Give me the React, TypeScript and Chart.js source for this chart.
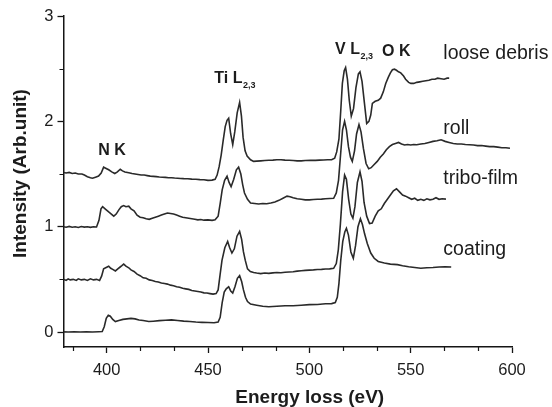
import React, { useEffect, useRef } from "react";
import { Chart, registerables } from "chart.js";

Chart.register(...registerables);

// ---- Data (energy loss in eV, intensity in arb. units) ----
const coating: [number, number][] = [
  [378.7, 0.002], [381, 0.0], [384, 0.003], [387, 0.0], [390, 0.002], [393, 0.0], [396, 0.003], [397.8, 0.005],
  [398.8, 0.05], [399.8, 0.13], [400.8, 0.16], [401.8, 0.15], [403, 0.12], [404.3, 0.1], [406, 0.11], [408, 0.12],
  [410, 0.125], [412, 0.13], [414, 0.125], [416, 0.115], [418, 0.11], [420.8, 0.1], [423, 0.103], [426, 0.108],
  [429, 0.112], [432, 0.115], [435, 0.11], [438, 0.104], [441, 0.1], [444, 0.095], [447, 0.092], [450, 0.09],
  [453, 0.088], [455, 0.095], [456, 0.14], [457, 0.28], [458, 0.38], [459, 0.41], [460.2, 0.43], [461.2, 0.39],
  [462.2, 0.37], [463.3, 0.43], [464.5, 0.51], [465.6, 0.535], [466.6, 0.48], [467.5, 0.4], [468.5, 0.33],
  [469.5, 0.29], [471, 0.265], [474, 0.255], [477, 0.245], [480, 0.24], [484, 0.245], [488, 0.25], [492, 0.25],
  [496, 0.255], [500, 0.26], [504, 0.262], [508, 0.268], [511, 0.27], [512.8, 0.28], [513.8, 0.33], [514.6, 0.46],
  [515.5, 0.68], [516.5, 0.86], [517.5, 0.95], [518.3, 0.985], [519.3, 0.92], [520.5, 0.76], [521.7, 0.7],
  [522.8, 0.82], [524, 1.0], [525.2, 1.075], [526.2, 1.02], [527.3, 0.93], [528.6, 0.84], [530.3, 0.75],
  [532, 0.7], [534, 0.67], [537, 0.655], [540, 0.645], [543.5, 0.64], [546, 0.63], [549, 0.62], [552, 0.612],
  [555, 0.605], [558, 0.61], [561, 0.612], [564, 0.618], [567, 0.62], [570, 0.618],
];

const triboFilm: [number, number][] = [
  [378.7, 0.5], [380, 0.49], [381, 0.505], [382, 0.495], [383.5, 0.5], [385, 0.49], [386, 0.505], [387.5, 0.495],
  [389, 0.5], [390.5, 0.49], [392, 0.505], [393.5, 0.495], [395, 0.5], [396.5, 0.49], [397.5, 0.53], [398.5, 0.6],
  [400, 0.615], [401, 0.625], [402, 0.605], [403, 0.595], [404.3, 0.58], [405.5, 0.6], [406.5, 0.615], [407.5, 0.63],
  [408.4, 0.645], [409.5, 0.625], [410.9, 0.61], [412, 0.59], [413.5, 0.575], [415, 0.55], [416.5, 0.535],
  [418, 0.515], [419.5, 0.51], [421, 0.495], [422.5, 0.49], [424, 0.48], [425.5, 0.475], [427, 0.465], [428.5, 0.46],
  [430, 0.455], [431.5, 0.445], [433, 0.44], [434.5, 0.43], [436, 0.425], [437.5, 0.415], [439, 0.41], [440.5, 0.405],
  [442, 0.395], [443.5, 0.39], [445, 0.385], [446.5, 0.38], [448, 0.372], [449.5, 0.37], [451, 0.365], [452.5, 0.36],
  [454, 0.365], [455, 0.4], [456, 0.55], [456.9, 0.68], [458.3, 0.8], [459.7, 0.86], [460.7, 0.8], [461.8, 0.75],
  [463, 0.79], [464.3, 0.91], [465.6, 0.955], [466.6, 0.88], [467.5, 0.76], [468.4, 0.68], [469.5, 0.6],
  [470.9, 0.575], [472.5, 0.565], [474, 0.56], [476, 0.555], [478, 0.56], [480, 0.557], [482, 0.562], [484, 0.565],
  [486, 0.563], [488, 0.568], [490, 0.57], [492, 0.572], [494, 0.578], [496, 0.582], [498, 0.585], [500, 0.588],
  [502, 0.59], [504, 0.593], [506, 0.595], [508, 0.598], [510, 0.6], [512, 0.605], [513.3, 0.65], [514.3, 0.78],
  [515.3, 1.02], [516.4, 1.33], [517.4, 1.49], [518.3, 1.45], [519.4, 1.26], [520.5, 1.12], [521.5, 1.08],
  [522.5, 1.19], [523.7, 1.42], [525, 1.52], [526, 1.43], [527, 1.23], [528.3, 1.1], [529.7, 1.03], [531, 1.035],
  [532.5, 1.1], [534, 1.15], [535.5, 1.17], [537, 1.22], [538.5, 1.26], [540, 1.3], [541.5, 1.34], [543, 1.36],
  [544.5, 1.33], [546, 1.3], [547.5, 1.29], [549, 1.275], [550.5, 1.26], [552, 1.27], [553.5, 1.25], [555, 1.26],
  [556.5, 1.25], [558, 1.265], [559.5, 1.255], [561, 1.26], [562.5, 1.275], [564, 1.26], [565.5, 1.265], [567.4, 1.262],
];

const roll: [number, number][] = [
  [378.7, 1.0], [380, 0.995], [381.5, 1.003], [383, 0.995], [384.5, 1.0], [386, 0.993], [387.5, 1.002], [389, 0.996],
  [390.5, 1.0], [392, 0.994], [393.5, 1.0], [395, 0.997], [396.2, 1.06], [397.2, 1.17], [398, 1.19], [399.5, 1.165],
  [401, 1.14], [402.3, 1.12], [403.5, 1.1], [404.7, 1.12], [406, 1.16], [407.2, 1.19], [408.4, 1.2], [409.5, 1.19],
  [410.9, 1.195], [412, 1.17], [413.5, 1.15], [415, 1.11], [416.5, 1.09], [418, 1.085], [419.5, 1.075], [421, 1.07],
  [422.5, 1.08], [424, 1.09], [425.5, 1.1], [427, 1.11], [428.5, 1.12], [430, 1.13], [431.5, 1.125], [433, 1.12],
  [434.5, 1.11], [436, 1.1], [437.5, 1.09], [439, 1.085], [440.5, 1.08], [442, 1.075], [443.5, 1.07], [445, 1.065],
  [446.5, 1.068], [448, 1.062], [450, 1.065], [452, 1.06], [453.5, 1.065], [455, 1.1], [456, 1.22], [457, 1.35],
  [458.2, 1.44], [459.4, 1.48], [460.4, 1.42], [461.4, 1.38], [462.7, 1.45], [464, 1.54], [465.1, 1.565],
  [466.2, 1.5], [467.1, 1.4], [468, 1.32], [469.5, 1.26], [471, 1.225], [473, 1.22], [475, 1.215], [477, 1.22],
  [479, 1.218], [481, 1.225], [483, 1.235], [485, 1.25], [487, 1.27], [489, 1.29], [490.5, 1.285], [492, 1.275],
  [494, 1.265], [496, 1.26], [498, 1.255], [500, 1.255], [502, 1.258], [504, 1.26], [506, 1.262], [508, 1.265],
  [510, 1.268], [512, 1.27], [513.3, 1.32], [514.4, 1.44], [515.4, 1.68], [516.4, 1.92], [517.4, 2.0], [518.3, 1.92],
  [519.3, 1.76], [520.3, 1.66], [521.2, 1.62], [522.3, 1.72], [523.3, 1.88], [524.5, 1.97], [525.5, 1.9],
  [526.7, 1.74], [528, 1.6], [529.3, 1.55], [530.5, 1.56], [532, 1.59], [533.5, 1.62], [535, 1.66], [536.5, 1.69],
  [538, 1.73], [539.5, 1.76], [541, 1.78], [542.5, 1.79], [544, 1.8], [545.5, 1.785], [547, 1.775], [548.5, 1.78],
  [550, 1.775], [551.5, 1.78], [553, 1.778], [555, 1.785], [557, 1.79], [559, 1.8], [561, 1.81], [563, 1.815],
  [565, 1.825], [567, 1.81], [569, 1.8], [571, 1.79], [573, 1.785], [575, 1.785], [577, 1.78], [579, 1.778],
  [581, 1.775], [583, 1.77], [585, 1.77], [587, 1.765], [589, 1.76], [591, 1.76], [593, 1.755], [595, 1.75],
  [597, 1.75], [599, 1.745],
];

const looseDebris: [number, number][] = [
  [378.7, 1.515], [380, 1.51], [381.5, 1.515], [383, 1.505], [384.5, 1.51], [386, 1.5], [387.8, 1.5], [389, 1.49],
  [390.5, 1.475], [392, 1.465], [393, 1.46], [394.5, 1.47], [396, 1.48], [397.3, 1.51], [398.5, 1.565],
  [399.5, 1.555], [401, 1.54], [402.5, 1.52], [404, 1.505], [405.3, 1.52], [406.7, 1.545], [407.8, 1.53],
  [409, 1.52], [410.9, 1.512], [412.5, 1.505], [414, 1.5], [415.5, 1.495], [417, 1.49], [418.5, 1.49], [420, 1.485],
  [421.5, 1.48], [423, 1.478], [424.5, 1.475], [426, 1.472], [427.5, 1.47], [429, 1.468], [430.5, 1.465],
  [432, 1.465], [433.5, 1.462], [435, 1.46], [436.5, 1.458], [438, 1.456], [440, 1.455], [442, 1.452], [444, 1.45],
  [446, 1.447], [448, 1.445], [450, 1.44], [452, 1.442], [453.5, 1.45], [454.5, 1.49], [455.5, 1.57], [456.5, 1.68],
  [457.5, 1.82], [458.5, 1.95], [459.4, 2.01], [460.2, 2.03], [461.2, 1.88], [462.2, 1.78], [463.2, 1.9],
  [464.4, 2.08], [465.6, 2.18], [466.5, 2.05], [467.3, 1.85], [468.3, 1.72], [469.3, 1.67], [471, 1.635],
  [472.5, 1.62], [474, 1.622], [476, 1.625], [478, 1.628], [480, 1.63], [482, 1.632], [484, 1.635], [486, 1.635],
  [488, 1.632], [490, 1.63], [492, 1.628], [494, 1.625], [496, 1.625], [498, 1.628], [500.6, 1.63], [503, 1.63],
  [505, 1.632], [507, 1.633], [509, 1.635], [511, 1.635], [512.5, 1.65], [513.5, 1.71], [514.6, 1.83], [515.5, 2.1],
  [516.3, 2.36], [517.2, 2.48], [517.9, 2.51], [518.8, 2.4], [519.7, 2.2], [520.7, 2.05], [521.8, 2.12],
  [523, 2.32], [524.2, 2.45], [525, 2.47], [526, 2.38], [527.2, 2.17], [528.3, 1.98], [529.4, 2.0], [530.3, 2.06],
  [531.1, 2.17], [532.5, 2.19], [534, 2.2], [535.2, 2.22], [536.5, 2.28], [537.7, 2.36], [539, 2.42], [540, 2.46],
  [541, 2.49], [542, 2.495], [543, 2.485], [544, 2.47], [545.1, 2.46], [546.5, 2.43], [547.5, 2.4], [549, 2.37],
  [550.1, 2.36], [551.5, 2.36], [553, 2.37], [554.5, 2.375], [556, 2.38], [557.5, 2.385], [559, 2.39],
  [560.5, 2.4], [562, 2.4], [563.3, 2.41], [565, 2.405], [566.5, 2.4], [568, 2.41], [569, 2.41],
];

const xTickValues = [400, 450, 500, 550, 600];
const yTickValues = [0, 1, 2, 3];
const X_MIN = 378.7;
const X_MAX = 600;
const Y_MIN = -0.142;
const Y_MAX = 3;
const X_MINOR_STEP = 50 / 3;
const Y_MINOR_STEP = 0.5;

const seriesNames = ["coating", "tribo-film", "roll", "loose debris"];
const seriesData = [coating, triboFilm, roll, looseDebris];

// label text anchored in data coordinates (energy, intensity): left/baseline
const seriesLabelPos: [number, number][] = [
  [566.1, 0.731],
  [566.1, 1.405],
  [566.1, 1.877],
  [566.1, 2.592],
];

// edge annotations: main text, subscript, energy, intensity, alignment
const edgeLabels: { main: string; sub: string; x: number; y: number; align: CanvasTextAlign }[] = [
  { main: "N K", sub: "", x: 402.6, y: 1.681, align: "center" },
  { main: "Ti L", sub: "2,3", x: 453.1, y: 2.361, align: "left" },
  { main: "V L", sub: "2,3", x: 512.7, y: 2.635, align: "left" },
  { main: "O K", sub: "", x: 535.9, y: 2.62, align: "left" },
];

const X_TITLE = "Energy loss (eV)";
const Y_TITLE = "Intensity (Arb.unit)";

const FONT = "'Liberation Sans', Arial, Helvetica, sans-serif";
const TEXT_COLOR = "#1c1c1c";
const LINE_COLOR = "#2a2a2a";
const AXIS_COLOR = "#151515";

const decorPlugin = {
  id: "decor",
  afterDraw(chart: any) {
    const ctx: CanvasRenderingContext2D = chart.ctx;
    const xs = chart.scales.x;
    const ys = chart.scales.y;
    const area = chart.chartArea;
    ctx.save();

    // minor ticks
    ctx.strokeStyle = AXIS_COLOR;
    ctx.lineWidth = 1.2;
    ctx.beginPath();
    const xStart = xTickValues[0] - X_MINOR_STEP * Math.floor((xTickValues[0] - X_MIN) / X_MINOR_STEP);
    for (let v = xStart; v <= X_MAX + 1e-6; v += X_MINOR_STEP) {
      if (xTickValues.some((t) => Math.abs(t - v) < 1e-3)) continue;
      const px = Math.round(xs.getPixelForValue(v)) + 0.5;
      ctx.moveTo(px, area.bottom);
      ctx.lineTo(px, area.bottom + 4);
    }
    for (let v = yTickValues[0] + Y_MINOR_STEP; v < Y_MAX; v += Y_MINOR_STEP) {
      if (yTickValues.some((t) => Math.abs(t - v) < 1e-6)) continue;
      const py = Math.round(ys.getPixelForValue(v)) + 0.5;
      ctx.moveTo(area.left, py);
      ctx.lineTo(area.left - 4, py);
    }
    ctx.stroke();

    // series labels
    ctx.fillStyle = TEXT_COLOR;
    ctx.textBaseline = "alphabetic";
    ctx.textAlign = "left";
    ctx.font = `19.5px ${FONT}`;
    seriesNames.forEach((name, i) => {
      const [ex, iy] = seriesLabelPos[i];
      ctx.fillText(name, xs.getPixelForValue(ex), ys.getPixelForValue(iy));
    });

    // edge annotations
    edgeLabels.forEach((l) => {
      ctx.font = `bold 16px ${FONT}`;
      ctx.textAlign = l.align;
      const px = xs.getPixelForValue(l.x);
      const py = ys.getPixelForValue(l.y);
      ctx.fillText(l.main, px, py);
      if (l.sub) {
        const w = ctx.measureText(l.main).width;
        const startX = l.align === "center" ? px + w / 2 : px + w;
        ctx.font = `bold 9px ${FONT}`;
        ctx.textAlign = "left";
        ctx.fillText(l.sub, startX + 0.5, py + 5);
      }
    });

    // axis titles
    ctx.font = `bold 19px ${FONT}`;
    ctx.textAlign = "center";
    ctx.fillText(X_TITLE, (area.left + area.right) / 2 + 22, area.bottom + 56);
    ctx.save();
    ctx.translate(25.5, (area.top + area.bottom) / 2 - 8);
    ctx.rotate(-Math.PI / 2);
    ctx.fillText(Y_TITLE, 0, 0);
    ctx.restore();

    ctx.restore();
  },
};

export default function App() {
  const canvasRef = useRef<HTMLCanvasElement>(null);

  useEffect(() => {
    const canvas = canvasRef.current;
    if (!canvas) return;
    const chart = new Chart(canvas, {
      type: "line",
      data: {
        datasets: seriesData.map((pts, i) => ({
          label: seriesNames[i],
          data: pts.map(([x, y]) => ({ x, y })),
          borderColor: LINE_COLOR,
          borderWidth: 1.6,
          pointRadius: 0,
          tension: 0,
          fill: false,
        })),
      },
      options: {
        animation: false,
        responsive: false,
        devicePixelRatio: 1,
        layout: { padding: { left: 0, top: 16, right: 40, bottom: 0 } },
        plugins: {
          legend: { display: false },
          tooltip: { enabled: false },
        },
        scales: {
          x: {
            type: "linear",
            min: X_MIN,
            max: X_MAX,
            afterBuildTicks: (s: any) => {
              s.ticks = xTickValues.map((v) => ({ value: v }));
            },
            afterFit: (s: any) => {
              s.height = 60;
            },
            grid: {
              drawOnChartArea: false,
              drawTicks: true,
              tickLength: 6,
              tickWidth: 1.3,
              tickColor: AXIS_COLOR,
            },
            border: { display: true, color: AXIS_COLOR, width: 1.5 },
            ticks: {
              autoSkip: false,
              maxRotation: 0,
              padding: 8,
              color: TEXT_COLOR,
              font: { family: FONT, size: 16.5 },
            },
            title: { display: false },
          },
          y: {
            type: "linear",
            min: Y_MIN,
            max: Y_MAX,
            afterBuildTicks: (s: any) => {
              s.ticks = yTickValues.map((v) => ({ value: v }));
            },
            afterFit: (s: any) => {
              s.width = 63.5;
            },
            grid: {
              drawOnChartArea: false,
              drawTicks: true,
              tickLength: 6,
              tickWidth: 1.3,
              tickColor: AXIS_COLOR,
            },
            border: { display: true, color: AXIS_COLOR, width: 1.5 },
            ticks: {
              autoSkip: false,
              padding: 4,
              color: TEXT_COLOR,
              font: { family: FONT, size: 16.5 },
            },
            title: { display: false },
          },
        },
      },
      plugins: [decorPlugin],
    });
    return () => chart.destroy();
  }, []);

  return (
    <div style={{ position: "fixed", left: 0, top: 0, width: 552, height: 407, background: "#fff" }}>
      <canvas ref={canvasRef} width={552} height={407} style={{ display: "block", width: 552, height: 407 }} />
    </div>
  );
}
